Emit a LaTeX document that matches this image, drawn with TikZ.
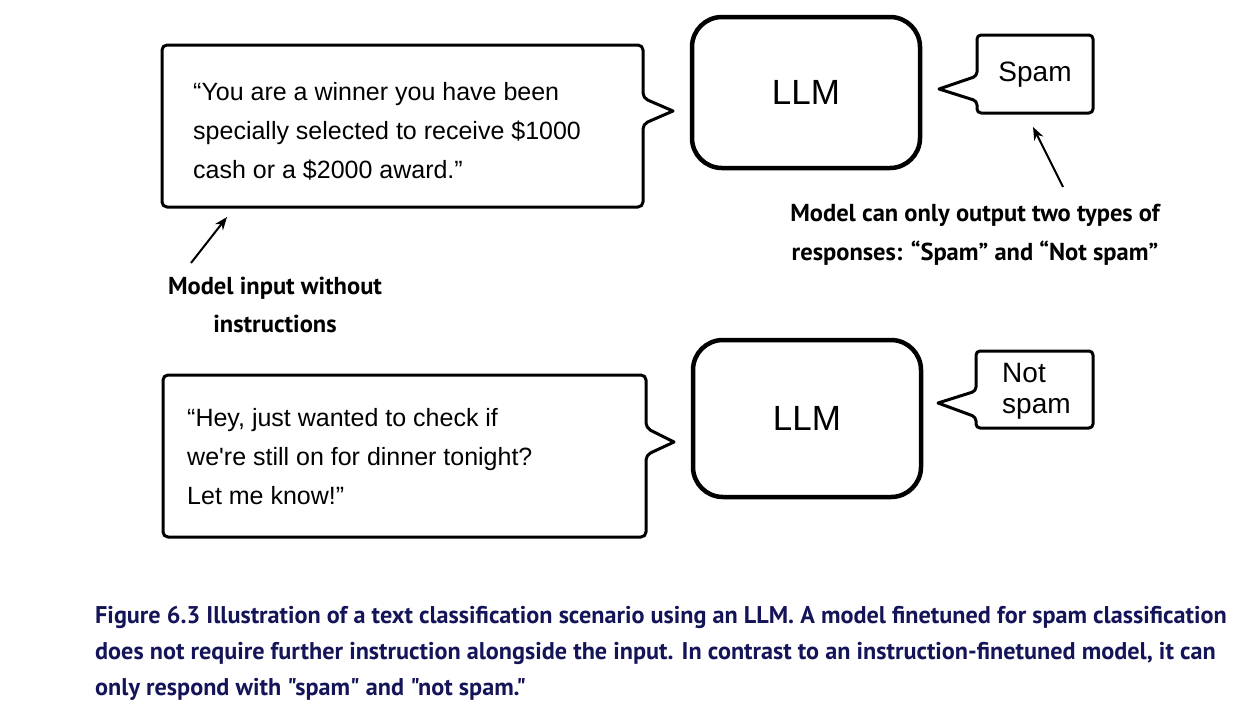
\documentclass[tikz,border=0pt]{standalone}
\usepackage{fontspec}
\setmainfont{Liberation Sans}
\newfontfamily\msgfont{Liberation Sans}
\newfontfamily\labfont{PT Sans}
\newfontfamily\capfont{PT Sans}
\usetikzlibrary{arrows.meta}
\definecolor{capblue}{RGB}{20,20,88}
\begin{document}
\begin{tikzpicture}[x=1pt,y=-1pt,
  bubble/.style={draw, line width=3pt, line join=round},
  llmbox/.style={draw, line width=4.5pt, rounded corners=30pt, minimum width=228pt, font=\fontsize{35}{40}\selectfont},
  msg/.style={anchor=west, align=left, inner sep=0pt, font=\msgfont\fontsize{25}{39}\selectfont},
  outtxt/.style={inner sep=0pt, align=left, font=\fontsize{28}{31}\selectfont},
  lab/.style={inner sep=0pt, align=center, font=\labfont\bfseries\fontsize{24.5}{38.5}\selectfont},
  arr/.style={-{Stealth[length=13pt,width=10pt]}, line width=2pt},
  captxt/.style={anchor=west, inner sep=0pt, align=left, text=capblue, font=\capfont\bfseries\fontsize{24.2}{36}\selectfont}
]
\useasboundingbox (0,0) rectangle (1246,707);

% top row
\draw[bubble, rounded corners=5pt] (162,45) -- (643,45) -- (643,98) [sharp corners] -- (673,111) [rounded corners=5pt] -- (643,124) -- (643,207) -- (162,207) -- cycle;
\node[msg] (msg1) at (193,131) {“You are a winner you have been\\specially selected to receive \$1000\\cash or a \$2000 award.”};
\node[llmbox, minimum height=151pt] (llm1) at (806,92.5) {LLM};
\draw[bubble, rounded corners=4pt] (977,35) -- (1093,35) -- (1093,113) -- (977,113) -- (977,101) [sharp corners] -- (939,89) [rounded corners=4pt] -- (977,76) -- cycle;
\node[outtxt] (out1) at (1035,75) {Spam};

% labels
\node[lab] (lab1) at (275,305) {Model input without\\instructions};
\node[lab] (lab2) at (975,235) {Model can only output two types of\\responses: “Spam” and “Not spam”};
\coordinate (t1) at (191,263); \coordinate (h1) at (227,217);
\coordinate (t2) at (1063,187); \coordinate (h2) at (1033,127);
\draw[arr] (t1) -- (h1);
\draw[arr] (t2) -- (h2);

% bottom row
\draw[bubble, rounded corners=5pt] (163,375) -- (646,375) -- (646,428) [sharp corners] -- (674,442) [rounded corners=5pt] -- (646,455) -- (646,537) -- (163,537) -- cycle;
\node[msg] (msg2) at (187,457) {“Hey, just wanted to check if\\we're still on for dinner tonight?\\Let me know!”};
\node[llmbox, minimum height=157pt] (llm2) at (807,418.5) {LLM};
\draw[bubble, rounded corners=4pt] (976,351) -- (1093,351) -- (1093,428) -- (976,428) -- (976,417) [sharp corners] -- (938,403) [rounded corners=4pt] -- (976,391) -- cycle;
\node[outtxt, anchor=west] (out2) at (1002,391) {Not\\spam};

% caption
\node[captxt] (caption) at (95,653) {Figure 6.3 Illustration of a text classification scenario using an LLM. A model finetuned for spam classification\\does not require further instruction alongside the input. In contrast to an instruction-finetuned model, it can\\only respond with "spam" and "not spam."};
\end{tikzpicture}
\end{document}
